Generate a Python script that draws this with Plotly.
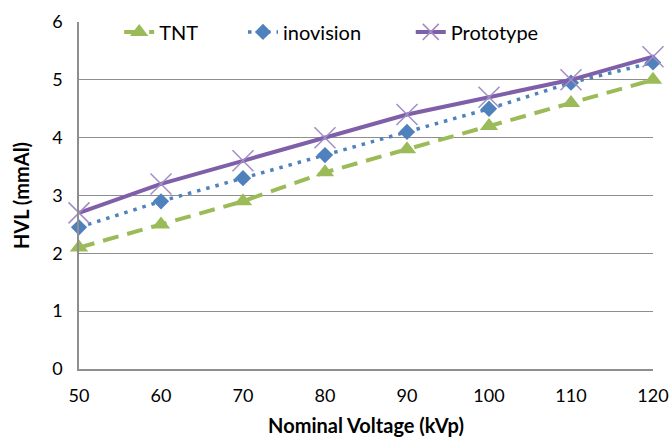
import plotly.graph_objects as go

voltage = [50, 60, 70, 80, 90, 100, 110, 120]
tnt = [2.1, 2.5, 2.9, 3.4, 3.8, 4.2, 4.6, 5.0]
inovision = [2.45, 2.9, 3.3, 3.7, 4.1, 4.5, 4.95, 5.3]
prototype = [2.7, 3.2, 3.6, 4.0, 4.4, 4.7, 5.0, 5.4]

FONT = "Lato"
GRID = "#8E8E8E"

fig = go.Figure()
fig.add_trace(go.Scatter(
    x=voltage, y=tnt, name="TNT", mode="lines+markers", legend="legend",
    line=dict(color="#9BBB59", width=4, dash="16px,9px"),
    marker=dict(symbol="triangle-up", size=16, color="#9BBB59"),
    cliponaxis=False))
fig.add_trace(go.Scatter(
    x=voltage, y=inovision, name="inovision", mode="lines+markers", legend="legend2",
    line=dict(color="#4F81BD", width=3.5, dash="3.5px,6px"),
    marker=dict(symbol="diamond", size=12.5, color="#4F81BD"),
    cliponaxis=False))
fig.add_trace(go.Scatter(
    x=voltage, y=prototype, name="Prototype", mode="lines+markers", legend="legend3",
    line=dict(color="#7F5FA8", width=4),
    marker=dict(symbol="x-thin-open", size=21, color="#A18CC6",
                line=dict(color="#A18CC6", width=1.5)),
    cliponaxis=False))

leg_common = dict(orientation="h", yanchor="middle", y=0.9715, xanchor="left",
                  bgcolor="rgba(0,0,0,0)", font=dict(family=FONT, size=20, color="black"),
                  itemwidth=30)

fig.update_layout(
    width=670, height=437,
    margin=dict(l=79, r=17, t=18, b=68),
    paper_bgcolor="white", plot_bgcolor="white",
    font=dict(family=FONT, size=18, color="black"),
    showlegend=True,
    legend=dict(x=0.07, **leg_common),
    legend2=dict(x=0.2857, **leg_common),
    legend3=dict(x=0.578, **leg_common),
    xaxis=dict(range=[50, 120], tickvals=voltage, showgrid=False,
               showline=True, linecolor=GRID, linewidth=1.5,
               ticks="", zeroline=False, tickfont=dict(size=18),
               ticklabelstandoff=10, automargin=False,
               title=dict(text="<b>Nominal Voltage (kVp)</b>", font=dict(size=20), standoff=18)),
    yaxis=dict(range=[0, 6], dtick=1, showgrid=True, gridcolor=GRID, gridwidth=1.2,
               showline=True, linecolor=GRID, linewidth=1.5,
               ticks="", zeroline=False, tickfont=dict(size=18),
               ticklabelstandoff=11, automargin=False,
               title=dict(text="<b>HVL (mmAl)</b>", font=dict(size=20), standoff=17)),
)

fig.write_html("out.html", config={"displayModeBar": False},
               post_script="document.body.style.margin='0';")
